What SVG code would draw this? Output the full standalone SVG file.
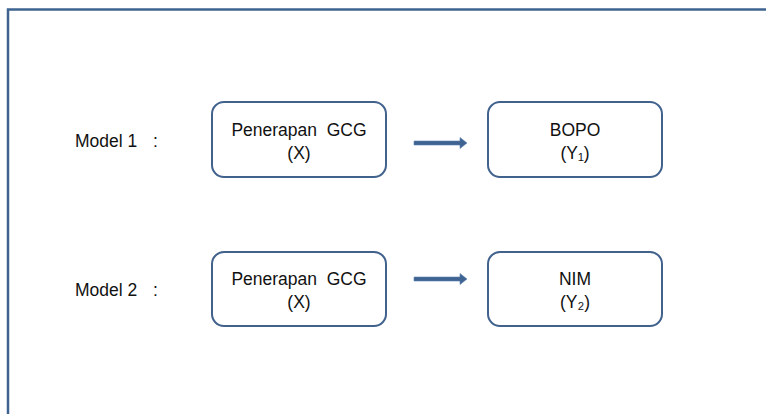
<svg xmlns="http://www.w3.org/2000/svg" width="766" height="414" viewBox="0 0 766 414">
<style>
.frame{fill:none;stroke:#3e6391;stroke-width:2.5}
.box{fill:#fff;stroke:#41628d;stroke-width:2}
.t{font-family:"Liberation Sans",Arial,sans-serif;font-size:17.5px;fill:#111;white-space:pre}
.c{text-anchor:middle}
.ar{fill:#3e6391;stroke:#5b7fae;stroke-width:0.6}
</style>
<rect width="766" height="414" fill="#fff"/>
<path class="frame" d="M8,414 V9.5 H766"/>
<text class="t" x="75" y="146.5" xml:space="preserve">Model 1  <tspan x="153">:</tspan></text>
<text class="t" x="75" y="295.5" xml:space="preserve">Model 2  <tspan x="153">:</tspan></text>
<g id="n1"><rect class="box" x="212" y="102" width="174" height="75" rx="12"/><text class="t c" x="299" y="136" xml:space="preserve">Penerapan  GCG</text><text class="t c" x="299" y="159">(X)</text></g>
<g id="n2"><rect class="box" x="488" y="102" width="174" height="75" rx="12"/><text class="t c" x="575" y="136">BOPO</text><text class="t c" x="575" y="159">(Y₁)</text></g>
<g id="n3"><rect class="box" x="212" y="252" width="174" height="74" rx="12"/><text class="t c" x="299" y="285" xml:space="preserve">Penerapan  GCG</text><text class="t c" x="299" y="308">(X)</text></g>
<g id="n4"><rect class="box" x="488" y="252" width="174" height="74" rx="12"/><text class="t c" x="575" y="285">NIM</text><text class="t c" x="575" y="308">(Y₂)</text></g>
<g id="connectors">
<path class="ar" d="M414,141 H460 V137.5 L467,143 L460,148.5 V145 H414 Z"/>
<path class="ar" d="M414,277 H460 V273.5 L467,279 L460,284.5 V281 H414 Z"/>
</g>
</svg>
